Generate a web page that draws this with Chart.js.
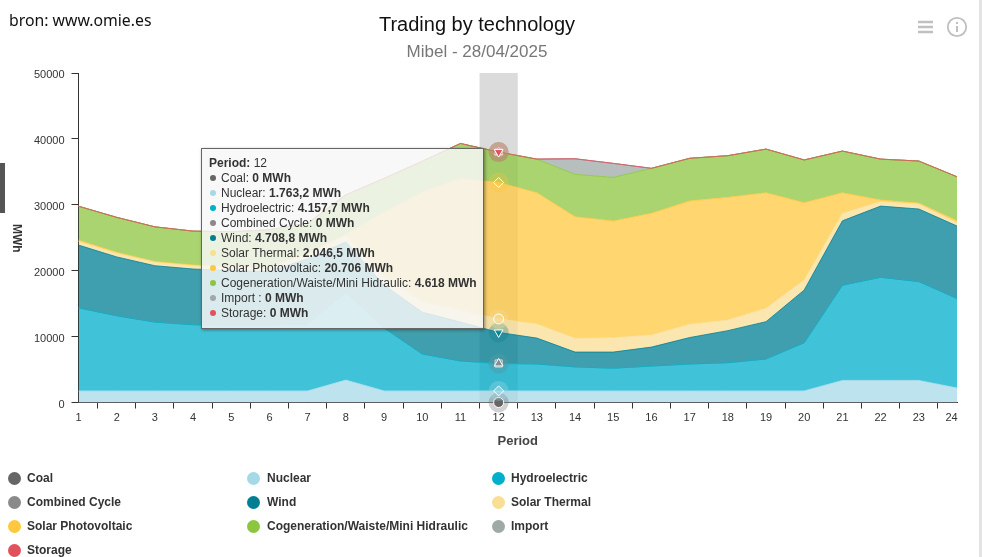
<!DOCTYPE html>
<html lang="en">
<head>
<meta charset="UTF-8">
<title>Trading by technology</title>
<script src="https://cdn.jsdelivr.net/npm/chart.js"></script>
<style>
  html, body { margin: 0; padding: 0; background: #fff; overflow: hidden; }
  body { width: 982px; height: 557px; position: relative; font-family: "Liberation Sans", Arial, sans-serif; }
  #chart { position: absolute; left: 0; top: 0; }
  .abs { position: absolute; white-space: nowrap; }
  #source { left: 9px; top: 9px; font: 15.8px "Noto Sans", sans-serif; color: #111; }
  #title { left: 0; width: 954px; top: 13px; text-align: center; font-size: 20px; color: #111; }
  #subtitle { left: 0; width: 954px; top: 42px; text-align: center; font-size: 17px; color: #777; }
  #ylabel { left: 10px; top: 224px; font-size: 12px; font-weight: bold; color: #333; writing-mode: vertical-rl; }
  #sidebar { left: 0; top: 163px; width: 5px; height: 50px; background: #555; }
  #scrollbar { left: 979px; top: 0; width: 3px; height: 557px; background: #e3e3e3; }
  .leg { font-size: 12px; font-weight: bold; color: #333; line-height: 14px; }
  .dot { position: absolute; width: 13px; height: 13px; border-radius: 50%; }
  #tip { left: 201px; top: 148px; width: 269px; height: 167px; padding: 7px 5px 5px 7px; background: rgba(247,247,247,.85);
         border: 1px solid #666; box-shadow: 1px 1px 3px rgba(0,0,0,.4); font-size: 12px; line-height: 15.05px; color: #333; }
  #tip .b { color: #333; font-weight: bold; }
  #tip .bul { display: inline-block; width: 6px; height: 6px; border-radius: 50%; margin: 0 5px 1px 1px; }
</style>
</head>
<body>
<canvas id="chart" width="982" height="557"></canvas>
<div class="abs" id="source">bron: www.omie.es</div>
<div class="abs" id="title">Trading by technology</div>
<div class="abs" id="subtitle">Mibel - 28/04/2025</div>
<div class="abs" id="ylabel">MWh</div>
<div class="abs" id="sidebar"></div>
<div class="abs" id="scrollbar"></div>
<svg class="abs" style="left:915px;top:15px" width="55" height="26" fill="none" stroke="#c0c0c0">
  <path d="M3 7H18M3 12H18M3 17H18" stroke-width="2.4"/>
  <circle cx="42" cy="12" r="9.2" stroke-width="1.8"/>
  <path d="M42 11V17M42 7V9" stroke-width="2"/>
</svg>
<div id="legend"></div>
<div class="abs" id="tip"></div>

<script>
const periods = ['1','2','3','4','5','6','7','8','9','10','11','12','13','14','15','16','17','18','19','20','21','22','23','24'];

const coal = [0,0,0,0,0,0,0,0,0,0,0,0,0,0,0,0,0,0,0,0,0,0,0,0];
const nuclear = [1763,1763,1763,1763,1763,1763,1763,3400,1763,1763,1763,1763.2,1763,1763,1763,1763,1763,1763,1763,1763,3350,3350,3350,2200];
const hydro = [12600,11400,10440,10040,9940,9940,10140,13300,9540,5600,4540,4157.7,4090,3640,3440,3770,4080,4280,4840,7310,14450,15650,15000,13580];
const combined = [0,0,0,0,0,0,0,0,0,0,0,0,0,0,0,0,0,0,0,0,0,0,0,0];
const wind = [9520,8930,8550,8450,8300,8200,9900,7650,6500,6340,5900,4708.8,3920,2250,2450,2870,4010,4860,5660,7990,9770,10800,11010,11000];
const thermal = [550,550,520,500,500,500,700,950,1400,1600,1800,2046.5,2130,2090,2180,1840,2010,1620,2030,1520,1130,670,750,490];
const solarPv = [200,150,130,120,120,100,200,200,9700,16600,20000,20706,19930,18450,17700,18460,18710,18610,17540,11730,3130,250,150,310];
const cogen = [5150,5300,5250,5130,5280,5700,4500,6000,5100,4700,5300,4618,5100,6430,6630,6830,6480,6320,6620,6490,6320,6210,6380,6670];
const imports = [0,0,0,0,0,0,0,0,0,0,0,0,0,2360,2120,0,0,0,0,0,0,0,0,0];
const storage = [0,0,0,0,0,0,0,0,0,0,0,0,0,0,0,0,0,0,0,0,0,0,0,0];

const yTicks = [0,10000,20000,30000,40000,50000];
const activeIdx = 11; // period 12 is the hovered one

const names = ['Coal','Nuclear','Hydroelectric','Combined Cycle','Wind','Solar Thermal','Solar Photovoltaic','Cogeneration/Waiste/Mini Hidraulic','Import ','Storage'];
const values = [coal,nuclear,hydro,combined,wind,thermal,solarPv,cogen,imports,storage];
const colors = ['102,102,102','166,217,232','0,175,203','138,138,138','0,127,147','249,222,150','255,200,64','140,198,63','159,170,168','224,82,92'];
const symbols = ['circle','rectRot','rect','triangle','triangle','circle','rectRot','rect','triangle','triangle'];
const rotations = [0,0,0,0,180,0,0,0,0,180];
const markerAlpha = [1,.5,.75,1,.75,.5,.3,.75,1,1];

const datasets = names.map((n, i) => ({
  label: n.trim(),
  data: values[i],
  clip: false,
  fill: i === 0 ? 'origin' : '-1',
  borderWidth: 1,
  borderColor: 'rgba(' + colors[i] + ',.8)',
  backgroundColor: 'rgba(' + colors[i] + ',.75)',
  tension: 0,
  pointStyle: symbols[i],
  pointRotation: rotations[i],
  pointRadius: 0,
  pointBackgroundColor: 'rgba(' + colors[i] + ',' + markerAlpha[i] + ')',
  pointBorderColor: '#fff',
  pointBorderWidth: 1
}));

// grey crosshair column behind the areas, halo and marker on the hovered period
const hoverBits = {
  id: 'hoverBits',
  beforeDatasetsDraw(chart) {
    const x = chart.scales.x, y = chart.scales.y, ctx = chart.ctx;
    const step = x.getPixelForValue(1) - x.getPixelForValue(0);
    ctx.save();
    ctx.fillStyle = '#dbdbdb';
    ctx.fillRect(x.getPixelForValue(activeIdx) - step / 2, y.top, step, y.bottom - y.top);
    ctx.restore();
  },
  afterDatasetsDraw(chart) {
    const ctx = chart.ctx;
    // the top line has to end up red like the reference, not green
    chart.getDatasetMeta(names.length - 1).dataset.draw(ctx, chart.chartArea);
    names.forEach((n, i) => {
      const pt = chart.getDatasetMeta(i).data[activeIdx];
      ctx.save();
      ctx.fillStyle = 'rgba(' + colors[i] + ',.3)';
      ctx.beginPath();
      ctx.arc(pt.x, pt.y, 10, 0, Math.PI * 2);
      ctx.fill();
      ctx.restore();
      pt.options.radius = 5;
      pt.draw(ctx);
    });
  }
};

new Chart(document.getElementById('chart'), {
  type: 'line',
  data: { labels: periods, datasets: datasets },
  plugins: [hoverBits],
  options: {
    responsive: false,
    animation: false,
    events: [],
    layout: { padding: { left: 0, top: 73, right: 25, bottom: 100 } },
    plugins: { legend: { display: false }, title: { display: false }, tooltip: { enabled: false } },
    scales: {
      x: {
        stacked: true,
        afterFit: s => { s.height = 54.5; },
        border: { color: '#333' },
        grid: { offset: true, drawOnChartArea: false, color: '#333', tickLength: 6 },
        ticks: {
          color: '#333', font: { family: 'Liberation Sans', size: 11 }, maxRotation: 0, autoSkip: false, padding: 3,
          callback: (v, i) => i === periods.length - 1 ? periods[i] + '\u2003' : periods[i]
        },
        title: { display: true, text: 'Period', color: '#444', font: { family: 'Liberation Sans', size: 13, weight: 'bold' }, padding: { top: 0, bottom: 8 } }
      },
      y: {
        stacked: true,
        min: 0,
        max: 50000,
        afterFit: s => { s.width = 78.5; },
        afterBuildTicks: s => { s.ticks = yTicks.map(v => ({ value: v })); },
        border: { color: '#333' },
        grid: { drawOnChartArea: false, color: '#333', tickLength: 7 },
        // empty first line + small line height drops the labels 2px below their tick
        ticks: { color: '#333', font: { family: 'Liberation Sans', size: 11, lineHeight: '4px' }, padding: 7, callback: v => ['', String(v)] }
      }
    }
  }
});

// legend rows under the chart
const legendCols = [[14, 27], [253, 267], [498, 511]];
const legendRows = [478, 502, 526, 550];
document.getElementById('legend').innerHTML = names.map((n, i) => {
  const col = legendCols[i % 3], row = legendRows[Math.floor(i / 3)];
  return '<div class="dot" style="left:' + (col[0] - 6.5) + 'px;top:' + (row - 6.5) + 'px;background:rgb(' + colors[i] + ')"></div>' +
         '<div class="abs leg" style="left:' + col[1] + 'px;top:' + (row - 7) + 'px">' + n.trim() + '</div>';
}).join('');

// the hovered period's box
const fmt = v => v.toLocaleString('de-DE', { maximumFractionDigits: 1 });
document.getElementById('tip').innerHTML = '<span class="b">Period:</span> ' + periods[activeIdx] + '<br>' +
  names.map((n, i) => '<span class="bul" style="background:rgb(' + colors[i] + ')"></span>' + n + ': <span class="b">' + fmt(values[i][activeIdx]) + ' MWh</span>').join('<br>');
</script>
</body>
</html>
